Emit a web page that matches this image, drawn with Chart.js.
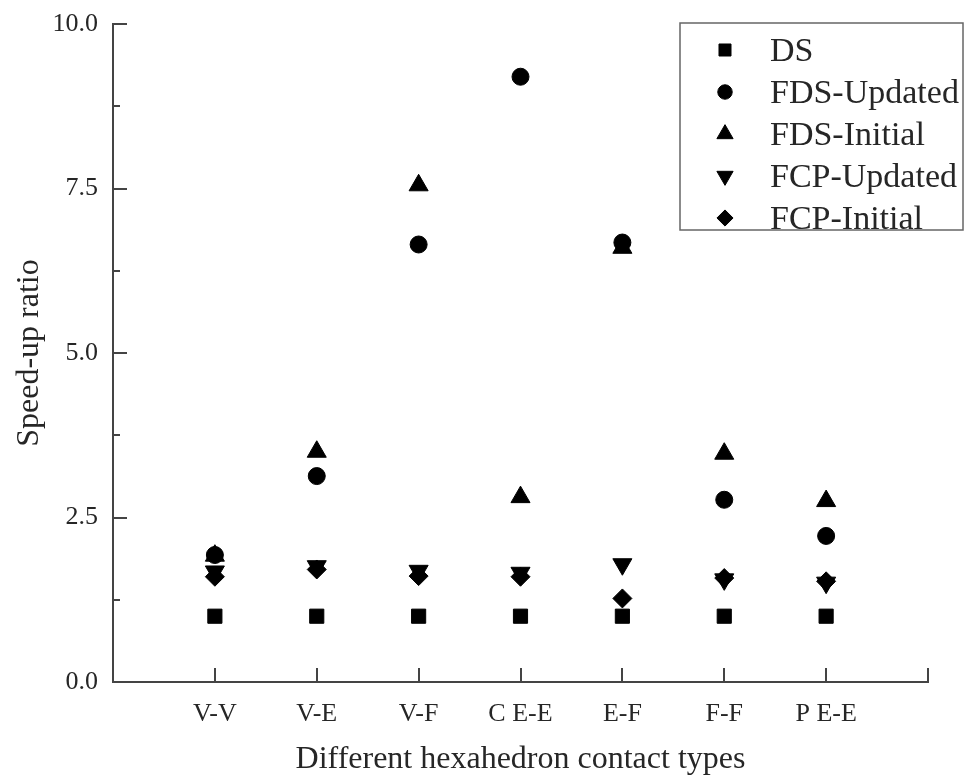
<!DOCTYPE html>
<html>
<head>
<meta charset="utf-8">
<script src="https://cdn.jsdelivr.net/npm/chart.js@4/dist/chart.umd.min.js"></script>
<style>
  html, body { margin: 0; padding: 0; background: #fff; }
  #wrap { width: 965px; height: 782px; }
</style>
</head>
<body>
<div id="wrap"><canvas id="js-speedup-chart" width="965" height="782"></canvas></div>
<script>
  /* ━━━━  DATA  ━━━━ */
  const categories = ['V-V', 'V-E', 'V-F', 'C E-E', 'E-F', 'F-F', 'P E-E'];
  const dsRatio         = [1.0, 1.0, 1.0, 1.0, 1.0, 1.0, 1.0];
  const fdsUpdatedRatio = [1.93, 3.13, 6.65, 9.2, 6.68, 2.77, 2.22];
  const fdsInitialRatio = [1.92, 3.5, 7.55, 2.81, 6.6, 3.47, 2.75];
  const fcpUpdatedRatio = [1.68, 1.76, 1.69, 1.66, 1.79, 1.56, 1.51];
  const fcpInitialRatio = [1.6, 1.71, 1.61, 1.6, 1.27, 1.58, 1.53];
  const yTicks = [0, 2.5, 5, 7.5, 10];

  const SERIF = "'Liberation Serif', 'Times New Roman', serif";
  const AXIS_COL = '#444';
  const TEXT_COL = '#262626';

  /* pad one empty slot on each side so the categories sit at 1..7 of 0..8 */
  const pad = arr => [null, ...arr, null];

  const series = [
    { label: 'DS',          data: dsRatio,         pointStyle: 'rect',     radius: 10,  rotation: 0 },
    { label: 'FDS-Updated', data: fdsUpdatedRatio, pointStyle: 'circle',   radius: 8.5, rotation: 0 },
    { label: 'FDS-Initial', data: fdsInitialRatio, pointStyle: 'triangle', radius: 11,  rotation: 0 },
    { label: 'FCP-Updated', data: fcpUpdatedRatio, pointStyle: 'triangle', radius: 11,  rotation: 180 },
    { label: 'FCP-Initial', data: fcpInitialRatio, pointStyle: 'rectRot',  radius: 9.5, rotation: 0 }
  ];

  /* ━━━━  PLUGINS  ━━━━ */
  // inward tick marks like the original Origin plot
  const inwardTicks = {
    id: 'inwardTicks',
    beforeDatasetsDraw(chart) {
      const { ctx, chartArea: a, scales: { x, y } } = chart;
      ctx.save();
      ctx.strokeStyle = AXIS_COL;
      ctx.lineWidth = 2;
      ctx.beginPath();
      yTicks.forEach((v, i) => {
        const py = Math.round(y.getPixelForValue(v));
        ctx.moveTo(a.left, py); ctx.lineTo(a.left + 14, py);
        if (i < yTicks.length - 1) {
          const my = Math.round(y.getPixelForValue(v + 1.25));
          ctx.moveTo(a.left, my); ctx.lineTo(a.left + 7, my);
        }
      });
      for (let i = 1; i <= categories.length + 1; i++) {
        const px = Math.round(x.getPixelForValue(i));
        ctx.moveTo(px, a.bottom); ctx.lineTo(px, a.bottom - 14);
      }
      ctx.stroke();
      ctx.restore();
    }
  };

  // boxed legend in the top-right corner
  const boxLegend = {
    id: 'boxLegend',
    afterDraw(chart) {
      const { ctx } = chart;
      const box = { x: 680, y: 23, w: 283, h: 207 };
      ctx.save();
      ctx.strokeStyle = '#666';
      ctx.lineWidth = 1.5;
      ctx.fillStyle = '#fff';
      ctx.fillRect(box.x, box.y, box.w, box.h);
      ctx.strokeRect(box.x, box.y, box.w, box.h);
      ctx.font = '34px ' + SERIF;
      ctx.textBaseline = 'middle';
      series.forEach((s, i) => {
        const cy = 50 + i * 42;
        ctx.fillStyle = '#000';
        ctx.strokeStyle = '#000';
        ctx.lineWidth = 1;
        Chart.helpers.drawPoint(ctx, {
          pointStyle: s.pointStyle, rotation: s.rotation,
          radius: s.radius * 0.85, borderWidth: 1
        }, 725, cy);
        ctx.fillStyle = TEXT_COL;
        ctx.fillText(s.label, 770, cy + 2);
      });
      ctx.restore();
    }
  };

  /* ━━━━  CHART  ━━━━ */
  new Chart(document.getElementById('js-speedup-chart').getContext('2d'), {
    type: 'line',
    data: {
      labels: ['', ...categories, ''],
      datasets: series.map(s => ({
        label: s.label,
        data: pad(s.data),
        showLine: false,
        pointStyle: s.pointStyle,
        pointRotation: s.rotation,
        pointRadius: s.radius,
        pointHoverRadius: s.radius,
        pointBackgroundColor: '#000',
        pointBorderColor: '#000',
        pointBorderWidth: 1
      }))
    },
    options: {
      responsive: false,
      animation: false,
      layout: { padding: { top: 24, right: 37, left: 0, bottom: 0 } },
      plugins: { legend: { display: false }, tooltip: { enabled: false } },
      scales: {
        x: {
          type: 'category',
          offset: false,
          grid: { display: false, drawTicks: false, tickLength: 0 },
          border: { display: true, color: AXIS_COL, width: 2 },
          ticks: {
            autoSkip: false, maxRotation: 0, padding: 17,
            color: TEXT_COL, font: { family: SERIF, size: 26 }
          },
          title: {
            display: true, text: 'Different hexahedron contact types',
            color: TEXT_COL, font: { family: SERIF, size: 32, lineHeight: 1 },
            padding: { top: 0, bottom: 6 }
          },
          afterFit: sc => { sc.height = 100; }
        },
        y: {
          min: 0, max: 10,
          grid: { display: false, drawTicks: false, tickLength: 0 },
          border: { display: true, color: AXIS_COL, width: 2 },
          ticks: {
            stepSize: 2.5, padding: 15,
            color: TEXT_COL, font: { family: SERIF, size: 26, lineHeight: 0.7 },
            callback: v => v.toFixed(1)
          },
          title: {
            display: true, text: 'Speed-up ratio',
            color: TEXT_COL, font: { family: SERIF, size: 32, lineHeight: 1 },
            padding: { top: 14, bottom: 0 }
          },
          afterFit: sc => { sc.width = 113; }
        }
      }
    },
    plugins: [inwardTicks, boxLegend]
  });
</script>
</body>
</html>
